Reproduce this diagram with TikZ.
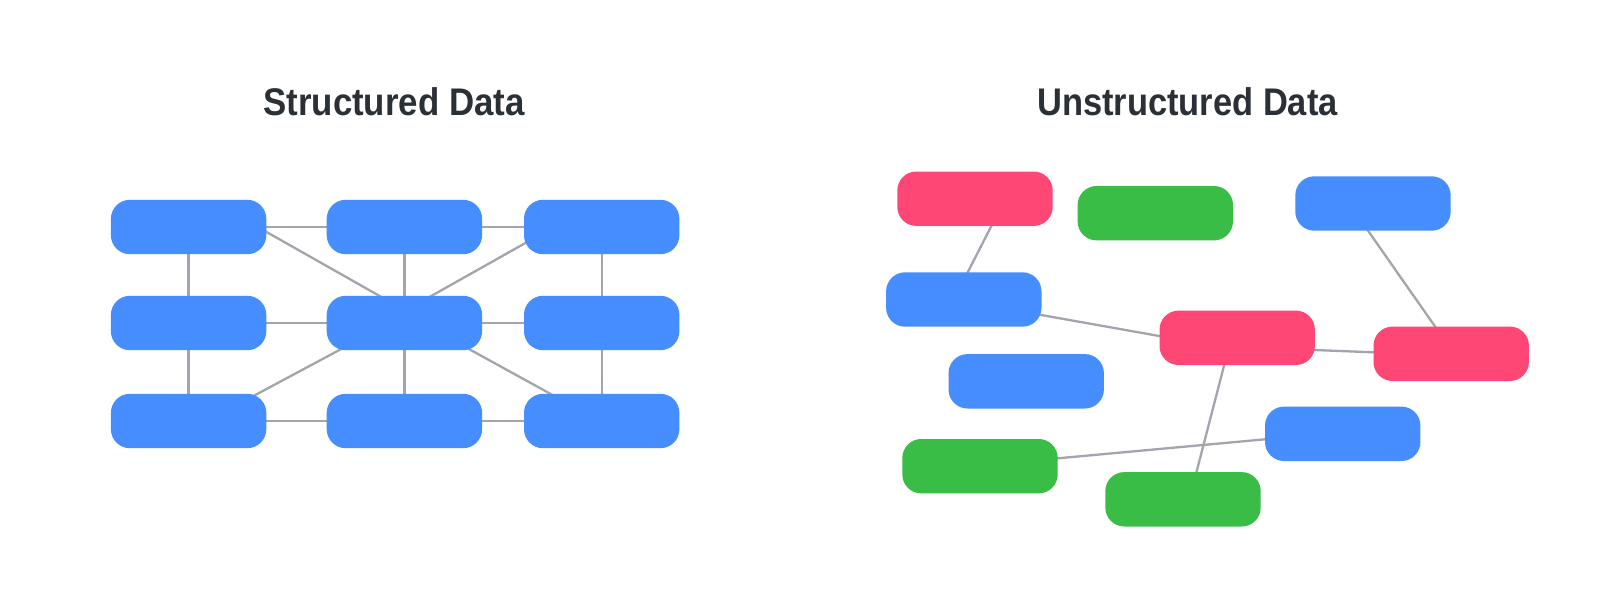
\documentclass[tikz,border=0pt]{standalone}
\usepackage{fontspec}
\setmainfont{Liberation Sans}
\usetikzlibrary{calc,backgrounds}
\definecolor{boxblue}{HTML}{468EFF}
\definecolor{boxred}{HTML}{FF4775}
\definecolor{boxgreen}{HTML}{3ABD46}
\definecolor{linkgray}{HTML}{A3A5AE}
\definecolor{titledark}{HTML}{2B2F36}
\tikzset{
  card/.style={rectangle, minimum width=155pt, minimum height=54pt, inner sep=0pt, draw=none,
    append after command={
      \pgfextra{\fill[#1, rounded corners=19pt] (\tikzlastnode.south west) rectangle (\tikzlastnode.north east);}
    }},
  bluecard/.style={card=boxblue},
  redcard/.style={card=boxred},
  greencard/.style={card=boxgreen},
  link/.style={draw=linkgray, line width=2.3pt},
  heading/.style={anchor=base, inner sep=0pt, text=titledark, font=\fontsize{38.5}{40}\selectfont\bfseries}
}
\begin{document}
\begin{tikzpicture}[x=1pt,y=-1pt]
\useasboundingbox (0,0) rectangle (1600,606);
% titles
\node[heading] (t1) at (394,115) {\scalebox{0.905}[1]{Structured Data}};
\node[heading] (t2) at (1187.5,115) {\scalebox{0.895}[1]{Unstructured Data}};
% structured grid
\node[bluecard] (s11) at (188.6,227) {};
\node[bluecard] (s12) at (404.4,227) {};
\node[bluecard] (s13) at (601.7,227) {};
\node[bluecard] (s21) at (188.6,323) {};
\node[bluecard] (s22) at (404.4,323) {};
\node[bluecard] (s23) at (601.7,323) {};
\node[bluecard] (s31) at (188.6,421) {};
\node[bluecard] (s32) at (404.4,421) {};
\node[bluecard] (s33) at (601.7,421) {};
% unstructured
\node[redcard] (r1) at (975,198.7) {};
\node[greencard] (g1) at (1155.3,213.2) {};
\node[bluecard] (btr) at (1373,203.5) {};
\node[bluecard] (bl) at (963.8,299.5) {};
\node[redcard] (rc) at (1237.2,337.8) {};
\node[redcard] (rr) at (1451.2,353.8) {};
\node[bluecard] (bm) at (1026.2,381.3) {};
\node[bluecard] (blr) at (1342.7,433.8) {};
\node[greencard] (gll) at (980,466.2) {};
\node[greencard] (gb) at (1183,499.3) {};
\begin{scope}[on background layer]
\fill[white] (0,0) rectangle (1600,606);
% grid links
\draw[link] (s11.center) -- (s12.center) -- (s13.center);
\draw[link] (s21.center) -- (s22.center) -- (s23.center);
\draw[link] (s31.center) -- (s32.center) -- (s33.center);
\draw[link] (s11.center) -- (s21.center) -- (s31.center);
\draw[link] (s12.center) -- (s22.center) -- (s32.center);
\draw[link] (s13.center) -- (s23.center) -- (s33.center);
\draw[link] ($(s11.center)+(61.4,-4.4)$) -- ($(s22.center)+(-12.4,-20)$);
\draw[link] ($(s13.center)+(-61.7,7.8)$) -- ($(s22.center)+(15.6,-20.7)$);
\draw[link] ($(s22.center)+(-54.4,21.3)$) -- ($(s31.center)+(56.4,-20.5)$);
\draw[link] ($(s22.center)+(55.6,21.1)$) -- ($(s33.center)+(-41.7,-21.9)$);
% scattered links
\draw[link] ($(r1.center)+(20.1,19.9)$) -- ($(bl.center)+(0.3,-20.1)$);
\draw[link] ($(bl.center)+(69.6,14.1)$) -- ($(rc.center)+(-70.1,-0.4)$);
\draw[link] ($(rc.center)+(69.8,11.9)$) -- ($(rr.center)+(-70.2,-1.2)$);
\draw[link] ($(btr.center)+(-9.6,20.6)$) -- ($(rr.center)+(-11.4,-20.5)$);
\draw[link] ($(rc.center)+(-11,19.5)$) -- ($(gb.center)+(11.4,-19.3)$);
\draw[link] ($(gll.center)+(70.2,-7.2)$) -- ($(blr.center)+(-70.2,4.8)$);
\end{scope}
\end{tikzpicture}
\end{document}
